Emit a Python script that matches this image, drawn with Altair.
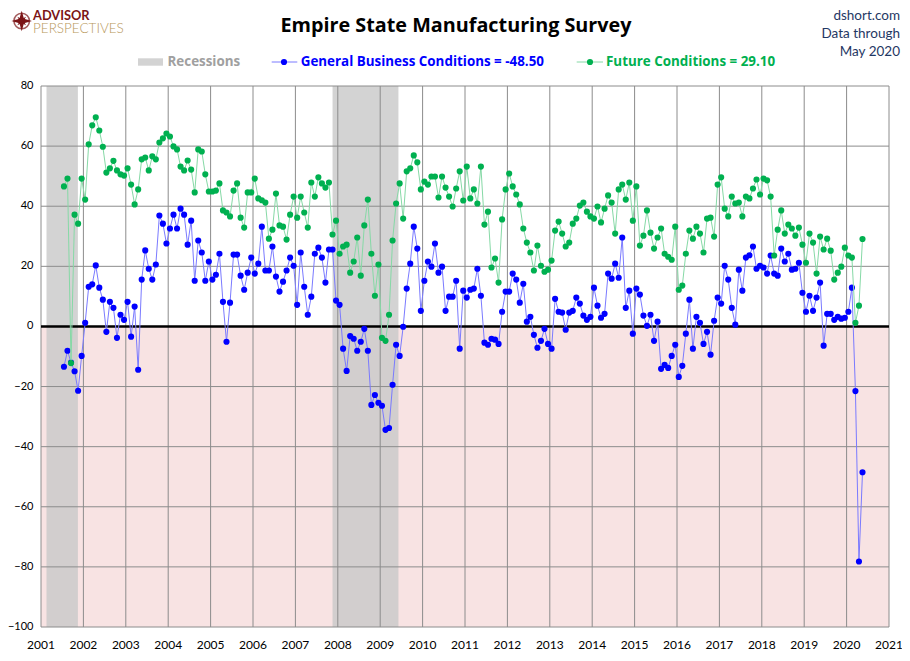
import altair as alt
import pandas as pd

# ---------------- data ----------------
year_ticks = list(range(2001, 2022))
y_ticks = list(range(-100, 81, 20))

general = [
    # 2001 Jul-Dec
    -13.4, -8.1, -12.0, -14.9, -21.4, -9.8,
    # 2002
    1.2, 13.2, 14.0, 20.3, 12.9, 8.9, -1.8, 8.2, 6.2, -3.8, 3.9, 2.2,
    # 2003
    8.2, -3.4, 6.6, -14.4, 15.6, 25.3, 19.2, 15.6, 20.6, 36.9, 34.2, 27.6,
    # 2004
    32.6, 37.2, 32.6, 39.2, 37.2, 27.2, 35.2, 15.2, 28.6, 24.6, 15.2, 21.6,
    # 2005
    15.6, 17.2, 24.2, 8.2, -5.1, 7.9, 23.9, 23.9, 16.9, 12.2, 17.9, 22.9,
    # 2006
    17.6, 20.9, 33.2, 18.6, 18.6, 26.6, 16.6, 11.6, 14.9, 18.6, 22.9, 20.2,
    # 2007
    7.2, 24.6, 13.2, 3.9, 9.9, 24.2, 26.2, 22.9, 14.6, 25.6, 25.6, 8.6,
    # 2008
    7.2, -7.4, -14.8, -3.2, -4.1, -8.1, -5.1, -0.8, -8.1, -26.1, -22.8, -25.4,
    # 2009
    -26.4, -34.4, -33.8, -19.4, -6.1, -9.8, -0.1, 12.6, 20.9, 33.2, 25.9, 5.2,
    # 2010
    15.2, 21.6, 19.9, 27.6, 17.9, 19.9, 5.2, 9.9, 9.9, 15.2, -7.4, 11.9,
    # 2011
    9.6, 12.2, 12.6, 19.2, 10.2, -5.4, -6.1, -4.1, -4.4, -5.8, 4.9, 11.6,
    # 2012
    11.6, 17.6, 15.6, 7.9, 14.2, 1.6, 3.2, -2.8, -7.1, -4.8, -0.8, -5.8,
    # 2013
    -7.4, 9.2, 4.9, 4.6, -1.1, 4.6, 5.2, 9.6, 7.6, 3.6, 2.2, 3.2,
    # 2014
    12.9, 6.9, 2.9, 4.2, 17.6, 15.9, 20.9, 16.2, 29.6, 6.2, 11.9, -2.4,
    # 2015
    12.6, 10.6, 3.6, 0.2, 3.9, -4.8, 1.6, -14.1, -12.8, -13.8, -9.8, -6.1,
    # 2016
    -16.8, -13.1, -2.4, 8.9, -7.4, 3.2, 1.2, -5.8, -1.8, -9.4, 1.9, 9.6,
    # 2017
    7.6, 20.2, 15.6, 6.2, 0.6, 18.9, 11.9, 22.9, 23.7, 26.6, 19.2, 20.2,
    # 2018
    19.6, 17.6, 23.6, 17.6, 16.9, 25.9, 21.6, 24.2, 18.9, 19.2, 21.2, 11.2,
    # 2019
    4.9, 10.2, 5.2, 9.6, 14.6, -6.4, 4.2, 4.2, 2.2, 3.2, 2.6, 2.9,
    # 2020 Jan-May
    4.9, 12.9, -21.5, -78.2, -48.5,
]

future = [
    # 2001 Jul-Dec
    46.6, 49.2, -12.2, 37.2, 34.2, 49.2,
    # 2002
    42.2, 60.6, 66.9, 69.6, 65.2, 59.8, 51.2, 52.6, 55.1, 51.9, 50.6, 50.2,
    # 2003
    52.6, 47.2, 40.6, 45.6, 55.6, 56.2, 51.9, 56.6, 55.6, 61.2, 62.6, 64.2,
    # 2004
    63.2, 59.9, 58.9, 53.2, 51.9, 55.2, 52.2, 44.6, 58.9, 58.2, 50.6, 44.9,
    # 2005
    44.9, 45.2, 47.6, 38.6, 37.9, 36.6, 45.2, 47.6, 36.2, 32.9, 44.6, 44.6,
    # 2006
    49.2, 42.6, 42.0, 41.2, 29.2, 32.2, 44.2, 33.6, 33.2, 28.9, 37.2, 43.2,
    # 2007
    36.2, 43.2, 37.9, 32.9, 47.9, 43.2, 49.6, 47.6, 46.2, 47.9, 30.6, 35.2,
    # 2008
    24.2, 26.6, 27.2, 17.9, 21.6, 29.6, 16.9, 33.6, 42.2, 24.2, 10.2, 20.6,
    # 2009
    -3.8, -4.8, 3.9, 28.6, 40.9, 47.6, 35.9, 51.6, 52.6, 56.9, 54.6, 45.6,
    # 2010
    48.2, 47.2, 49.9, 49.9, 42.9, 49.9, 46.2, 43.2, 39.9, 45.9, 51.6, 41.9,
    # 2011
    53.2, 42.6, 45.6, 40.9, 53.2, 33.9, 38.2, 19.6, 22.6, 14.6, 35.6, 45.6,
    # 2012
    50.9, 46.6, 43.9, 40.6, 32.6, 27.9, 24.6, 18.6, 26.9, 20.2, 18.2, 18.9,
    # 2013
    21.9, 31.9, 34.9, 30.9, 26.6, 27.9, 34.2, 35.9, 40.2, 41.2, 38.2, 36.6,
    # 2014
    35.9, 39.9, 34.6, 39.2, 43.6, 41.2, 30.9, 45.6, 47.2, 42.2, 47.9, 35.2,
    # 2015
    46.6, 26.9, 30.2, 38.6, 31.2, 25.9, 29.6, 32.6, 24.2, 23.2, 22.2, 33.2,
    # 2016
    12.2, 13.6, 24.2, 31.9, 29.2, 33.2, 30.9, 24.6, 35.9, 36.2, 29.9, 47.2,
    # 2017
    49.6, 39.2, 36.6, 43.2, 40.9, 41.2, 36.6, 43.2, 42.6, 45.9, 48.9, 43.9,
    # 2018
    49.2, 48.6, 43.2, 23.6, 32.2, 38.6, 30.9, 33.9, 32.6, 30.2, 32.9, 27.2,
    # 2019
    21.2, 30.9, 27.9, 17.6, 29.9, 25.6, 29.2, 25.2, 15.6, 17.9, 19.9, 26.2,
    # 2020 Jan-May
    23.6, 22.9, 1.2, 6.9, 29.1,
]

# recessions (decimal years, as shaded in the reference)
rec_start = [2001.13, 2007.876]
rec_end = [2001.87, 2009.43]

# negative-territory band
neg_low = [-100]
neg_high = [0]

legend_general = "General Business Conditions = -48.50"
legend_future = "Future Conditions = 29.10"
title_text = "Empire State Manufacturing Survey"
source_lines = ["dshort.com", "Data through", "May 2020"]

# ---------------- build tables ----------------
dates = pd.date_range("2001-07-01", periods=len(general), freq="MS")
t_dec = [d.year + (d.month - 0.5) / 12.0 for d in dates]
series = pd.DataFrame({"t": t_dec, "general": general, "future": future})
rec_df = pd.DataFrame({"s": rec_start, "e": rec_end})
neg_df = pd.DataFrame({"lo": neg_low, "hi": neg_high, "x0": [2001], "x1": [2021]})
xt_df = pd.DataFrame({"yr": year_ticks})
yt_df = pd.DataFrame({"v": y_ticks})
zero_df = pd.DataFrame({"z": [0]})
one = pd.DataFrame({"k": [0]})

W, H = 848, 541
FONT = "Lato"
BFONT = "Open Sans"

xs = alt.Scale(domain=[2001, 2021], nice=False, zero=False)
ys = alt.Scale(domain=[-100, 80], nice=False, zero=False)

neg = alt.Chart(neg_df).mark_rect(color="#f8e3e3").encode(
    x=alt.X("x0:Q", scale=xs, axis=None), x2="x1:Q",
    y=alt.Y("lo:Q", scale=ys, axis=None), y2="hi:Q")

rec = alt.Chart(rec_df).mark_rect(color="#c8c8c8", opacity=0.8).encode(
    x=alt.X("s:Q", scale=xs, axis=None), x2="e:Q",
    y=alt.value(0), y2=alt.value(H))

vgrid = alt.Chart(xt_df).mark_rule(color="#8c8c8c", strokeWidth=1).encode(
    x=alt.X("yr:Q", scale=xs, axis=None), y=alt.value(0), y2=alt.value(H))
hgrid = alt.Chart(yt_df).mark_rule(color="#8c8c8c", strokeWidth=1).encode(
    y=alt.Y("v:Q", scale=ys, axis=None), x=alt.value(0), x2=alt.value(W))

# tick labels, placed through the scales
xlab = alt.Chart(xt_df).mark_text(font=FONT, fontSize=12, color="#000000",
                                  align="center", baseline="middle").encode(
    x=alt.X("yr:Q", scale=xs, axis=None), y=alt.value(H + 18),
    text=alt.Text("yr:Q", format="d"))
ylab = alt.Chart(yt_df).mark_text(font=FONT, fontSize=11, color="#000000",
                                  align="right", baseline="middle").encode(
    y=alt.Y("v:Q", scale=ys, axis=None), x=alt.value(-7.5),
    text=alt.Text("v:Q", format="d"))

zero = alt.Chart(zero_df).mark_rule(color="#000000", strokeWidth=2.5).encode(
    y=alt.Y("z:Q", scale=ys, axis=None), x=alt.value(0), x2=alt.value(W))

g_line = alt.Chart(series).mark_line(color="#7a7aff", strokeWidth=1).encode(
    x=alt.X("t:Q", scale=xs, axis=None), y=alt.Y("general:Q", scale=ys, axis=None))
g_pts = alt.Chart(series).mark_point(filled=True, color="#0000ff", size=38, opacity=1).encode(
    x=alt.X("t:Q", scale=xs, axis=None), y=alt.Y("general:Q", scale=ys, axis=None))
f_line = alt.Chart(series).mark_line(color="#86d9a6", strokeWidth=1).encode(
    x=alt.X("t:Q", scale=xs, axis=None), y=alt.Y("future:Q", scale=ys, axis=None))
f_pts = alt.Chart(series).mark_point(filled=True, color="#00b050", size=38, opacity=1).encode(
    x=alt.X("t:Q", scale=xs, axis=None), y=alt.Y("future:Q", scale=ys, axis=None))

# ---------------- header: title, source, logo, legend ----------------
def txt(s, x, y, size, color, weight="normal", align="left", font=FONT):
    return alt.Chart(one).mark_text(text=s, fontSize=size, color=color, fontWeight=weight,
                                    align=align, baseline="middle", font=font).encode(
        x=alt.value(x), y=alt.value(y))

title = txt(title_text, 415, -60, 19.8, "#000000", "bold", "center", BFONT)
src = alt.layer(*[txt(s, 859, -70 + 18 * i, 13.5, "#1f3864", "normal", "right")
                  for i, s in enumerate(source_lines)])

STAR = "M0,-1L0.22,-0.22L1,0L0.22,0.22L0,1L-0.22,0.22L-1,0L-0.22,-0.22Z"
LX, LY = -19.3, -65
logo_ring = alt.Chart(one).mark_point(shape="circle", size=240, color="#7b1416",
                                      strokeWidth=1.6, filled=False).encode(
    x=alt.value(LX), y=alt.value(LY))
logo_star = alt.Chart(one).mark_point(shape=STAR, size=420, color="#7b1416",
                                      filled=True, opacity=1).encode(
    x=alt.value(LX), y=alt.value(LY))
logo_star2 = alt.Chart(one).mark_point(shape=STAR, size=150, color="#7b1416",
                                       filled=True, opacity=1, angle=45).encode(
    x=alt.value(LX), y=alt.value(LY))
logo_a = txt("ADVISOR", -8, -70.5, 12.8, "#7b1416", "bold")
logo_b = txt("PERSPECTIVES", -8, -57, 13.5, "#b8975a", 300)

LEGY = -24
leg_rec = alt.Chart(one).mark_rect(color="#d3d3d3").encode(
    x=alt.value(97), x2=alt.value(122), y=alt.value(LEGY - 3.7), y2=alt.value(LEGY + 3.7))
leg_rec_t = txt("Recessions", 126.5, LEGY, 13.4, "#a0a0a0", "bold", "left", BFONT)
leg_g_line = alt.Chart(one).mark_rule(color="#7a7aff", strokeWidth=1).encode(
    x=alt.value(230.7), x2=alt.value(256.3), y=alt.value(LEGY))
leg_g_pt = alt.Chart(one).mark_point(filled=True, color="#0000ff", size=38, opacity=1).encode(
    x=alt.value(243), y=alt.value(LEGY))
leg_g_t = txt(legend_general, 259.7, LEGY, 13.4, "#0000ff", "bold", "left", BFONT)
leg_f_line = alt.Chart(one).mark_rule(color="#86d9a6", strokeWidth=1).encode(
    x=alt.value(535.7), x2=alt.value(562), y=alt.value(LEGY))
leg_f_pt = alt.Chart(one).mark_point(filled=True, color="#00b050", size=38, opacity=1).encode(
    x=alt.value(549), y=alt.value(LEGY))
leg_f_t = txt(legend_future, 565, LEGY, 13.4, "#00b050", "bold", "left", BFONT)

chart = alt.layer(
    neg, rec, vgrid, hgrid, zero, g_line, g_pts, f_line, f_pts, xlab, ylab,
    title, src, logo_ring, logo_star, logo_star2, logo_a, logo_b,
    leg_rec, leg_rec_t, leg_g_line, leg_g_pt, leg_g_t, leg_f_line, leg_f_pt, leg_f_t,
).properties(
    width=W, height=H,
    autosize=alt.AutoSizeParams(type="none"),
    padding={"left": 33, "top": 78, "right": 13, "bottom": 24},
    background="#ffffff",
).configure_view(stroke=None)

chart.save("out.html", embed_options={"renderer": "svg", "actions": False})
